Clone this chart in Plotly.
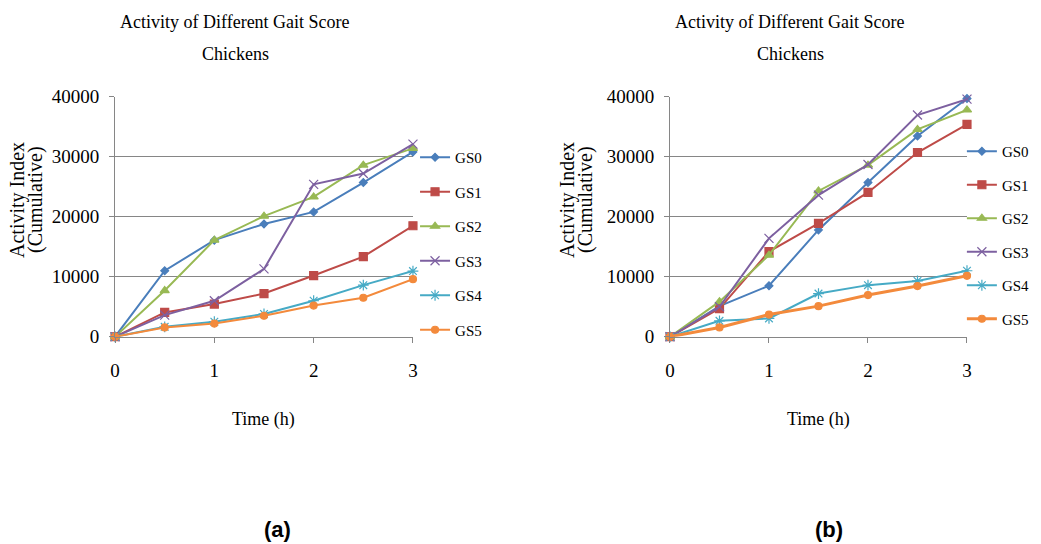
import plotly.graph_objects as go

time_h = [0, 0.5, 1, 1.5, 2, 2.5, 3]
series_names = ["GS0", "GS1", "GS2", "GS3", "GS4", "GS5"]

# Panel (a)
a_gs0 = [0, 11000, 16100, 18800, 20800, 25700, 30800]
a_gs1 = [0, 4050, 5450, 7200, 10200, 13350, 18500]
a_gs2 = [0, 7700, 16100, 20100, 23300, 28600, 31400]
a_gs3 = [0, 3600, 6000, 11300, 25400, 27200, 32100]
a_gs4 = [0, 1650, 2500, 3800, 6000, 8600, 10950]
a_gs5 = [0, 1550, 2200, 3500, 5200, 6500, 9600]

# Panel (b)
b_gs0 = [0, 5100, 8500, 17800, 25700, 33450, 39700]
b_gs1 = [0, 4700, 14200, 18900, 24050, 30700, 35400]
b_gs2 = [0, 5850, 13600, 24300, 28600, 34550, 37800]
b_gs3 = [0, 5000, 16400, 23600, 28700, 36950, 39600]
b_gs4 = [0, 2650, 3050, 7200, 8600, 9300, 11000]
b_gs5 = [0, 1550, 3700, 5100, 6950, 8450, 10150]

x_ticks = [0, 1, 2, 3]
x_labels = ["0", "1", "2", "3"]
y_ticks = [0, 10000, 20000, 30000, 40000]
y_labels = ["0", "10000", "20000", "30000", "40000"]

colors = ["#4A7EBB", "#BE4B48", "#98B954", "#7D60A0", "#46AAC5", "#F38A3C"]
symbols = ["diamond", "square", "triangle-up", "x-thin-open", "asterisk-open", "circle"]
msizes = [6, 8, 8, 9, 9, 7]

SERIF = "Liberation Serif, Times New Roman, serif"

fig = go.Figure()

a_data = [a_gs0, a_gs1, a_gs2, a_gs3, a_gs4, a_gs5]
b_data = [b_gs0, b_gs1, b_gs2, b_gs3, b_gs4, b_gs5]

for i, name in enumerate(series_names):
    fig.add_trace(go.Scatter(
        x=time_h, y=a_data[i], name=name, mode="lines+markers",
        line=dict(color=colors[i], width=2),
        marker=dict(symbol=symbols[i], size=msizes[i], color=colors[i],
                    line=dict(color=colors[i], width=1.2)),
        xaxis="x", yaxis="y", legend="legend", legendgroup="a" + name,
        cliponaxis=False,
    ))
for i, name in enumerate(series_names):
    fig.add_trace(go.Scatter(
        x=time_h, y=b_data[i], name=name, mode="lines+markers",
        line=dict(color=colors[i], width=3 if i == 5 else 2),
        marker=dict(symbol=symbols[i], size=msizes[i], color=colors[i],
                    line=dict(color=colors[i], width=1.2)),
        xaxis="x2", yaxis="y2", legend="legend2", legendgroup="b" + name,
        cliponaxis=False,
    ))

ydom = [0.381, 0.8222]
xcommon = dict(range=[0, 3], tickvals=x_ticks, ticktext=x_labels,
               showgrid=False, showline=True, automargin=False,
               linecolor="#868686", linewidth=1, ticks="outside", ticklen=5,
               tickcolor="#868686", zeroline=False,
               tickfont=dict(family=SERIF, size=19, color="#000"),
               ticklabelstandoff=11)
ycommon = dict(range=[0, 40000], tickvals=y_ticks, ticktext=y_labels,
               showgrid=True, automargin=False,
               gridcolor="#868686", gridwidth=1, showline=True,
               linecolor="#868686", linewidth=1, ticks="outside", ticklen=5,
               tickcolor="#868686", zeroline=False, domain=ydom,
               tickfont=dict(family=SERIF, size=19, color="#000"),
               ticklabelstandoff=6)

legcommon = dict(font=dict(family=SERIF, size=15, color="#000"),
                 bgcolor="rgba(0,0,0,0)", borderwidth=0,
                 xanchor="left", yanchor="top", itemwidth=30,
                 traceorder="grouped")

fig.update_layout(
    width=1041, height=544,
    margin=dict(l=0, r=0, t=0, b=0),
    paper_bgcolor="white", plot_bgcolor="white",
    xaxis=dict(domain=[0.1105, 0.3967], anchor="y", **xcommon),
    yaxis=dict(anchor="x", **ycommon),
    xaxis2=dict(domain=[0.6436, 0.9289], anchor="y2", **xcommon),
    yaxis2=dict(anchor="x2", **ycommon),
    legend=dict(x=0.3987, y=1 - 141 / 544, tracegroupgap=12, **legcommon),
    legend2=dict(x=0.924, y=1 - 135 / 544, tracegroupgap=11, **legcommon),
)

title_l1 = "Activity of Different Gait Score"
title_l2 = "Chickens"
for xc in [235, 790]:
    for txt, yc in [(title_l1, 22), (title_l2, 54)]:
        fig.add_annotation(text=txt, x=xc / 1041, y=1 - yc / 544,
                           xref="paper", yref="paper", showarrow=False,
                           font=dict(family=SERIF, size=18, color="#000"),
                           xanchor="center", yanchor="middle")

for xc in [17, 567]:
    for txt, dx in [("Activity Index", 0), ("(Cumulative)", 18)]:
        fig.add_annotation(text=txt, x=(xc + dx) / 1041,
                           y=1 - 200 / 544, xref="paper", yref="paper",
                           showarrow=False, textangle=-90,
                           font=dict(family=SERIF, size=20, color="#000"),
                           xanchor="center", yanchor="middle")

for xc in [263, 818]:
    fig.add_annotation(text="Time (h)", x=xc / 1041, y=1 - 419 / 544,
                       xref="paper", yref="paper", showarrow=False,
                       font=dict(family=SERIF, size=18, color="#000"),
                       xanchor="center", yanchor="middle")

for txt, xc in [("(a)", 277), ("(b)", 829)]:
    fig.add_annotation(text="<b>" + txt + "</b>", x=xc / 1041, y=1 - 529 / 544,
                       xref="paper", yref="paper", showarrow=False,
                       font=dict(family="Liberation Sans, Arial, sans-serif", size=22, color="#000"),
                       xanchor="center", yanchor="middle")

fig.write_html("out.html", config={"displayModeBar": False},
               post_script="document.body.style.margin='0';")
